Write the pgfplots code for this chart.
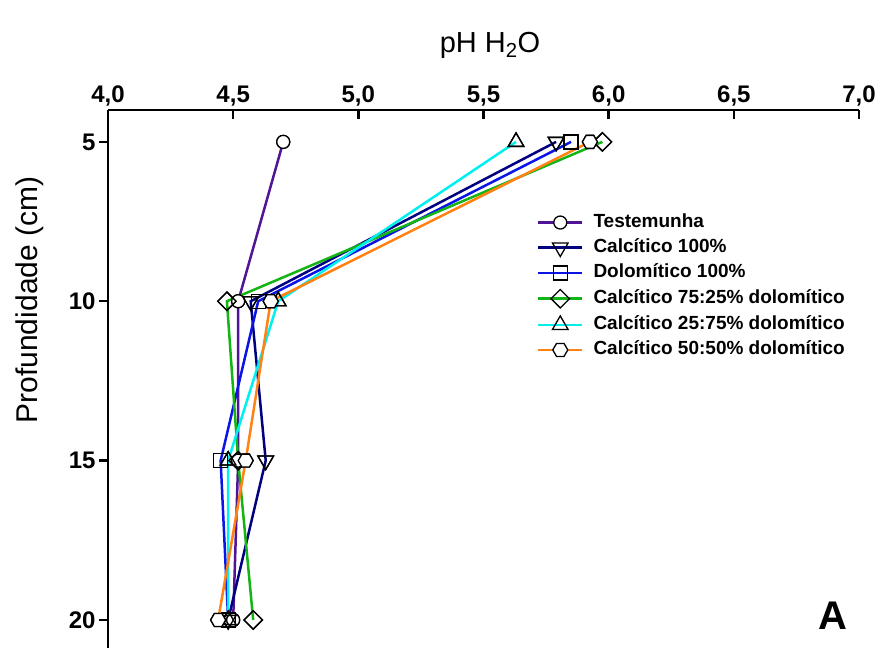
\documentclass[border=0pt]{standalone}
\usepackage{fontspec}
\setmainfont{Liberation Sans}
\usepackage{pgfplots}
\pgfplotsset{compat=1.18}
\usepackage{pgfplotstable}

\definecolor{cTest}{RGB}{80,20,150}
\definecolor{cCal}{RGB}{0,0,128}
\definecolor{cDol}{RGB}{10,20,230}
\definecolor{cG}{RGB}{20,180,20}
\definecolor{cC}{RGB}{0,240,240}
\definecolor{cO}{RGB}{255,130,20}
\tikzset{mk/.style={line width=1.3pt, draw=black, fill=white, solid}}

\pgfdeclareplotmark{hexagon}{%
  \pgfpathmoveto{\pgfpointpolar{0}{\pgfplotmarksize}}%
  \pgfpathlineto{\pgfpointpolar{60}{\pgfplotmarksize}}%
  \pgfpathlineto{\pgfpointpolar{120}{\pgfplotmarksize}}%
  \pgfpathlineto{\pgfpointpolar{180}{\pgfplotmarksize}}%
  \pgfpathlineto{\pgfpointpolar{240}{\pgfplotmarksize}}%
  \pgfpathlineto{\pgfpointpolar{300}{\pgfplotmarksize}}%
  \pgfpathclose
  \pgfusepathqfillstroke}

\pgfplotstableread{
ph depth
4.70 5
4.52 10
4.52 15
4.50 20
}\testemunha
\pgfplotstableread{
ph depth
5.79 5
4.57 10
4.63 15
4.48 20
}\calcitico
\pgfplotstableread{
ph depth
5.85 5
4.60 10
4.45 15
4.48 20
}\dolomitico
\pgfplotstableread{
ph depth
5.975 5
4.475 10
4.52 15
4.58 20
}\cseventyfive
\pgfplotstableread{
ph depth
5.63 5
4.68 10
4.48 15
4.48 20
}\ctwentyfive
\pgfplotstableread{
ph depth
5.925 5
4.65 10
4.55 15
4.44 20
}\cfifty

\begin{document}
\begin{tikzpicture}
\begin{axis}[name=ax,
  scale only axis, width=751pt, height=538pt,
  xmin=4, xmax=7, ymin=4, ymax=20.88, y dir=reverse,
  axis x line=top, axis y line=left,
  axis line style={line width=2.5pt,-},
  xtick={4,4.5,5,5.5,6,6.5,7},
  xticklabels={{4,0},{4,5},{5,0},{5,5},{6,0},{6,5},{7,0}},
  ytick={5,10,15,20},
  yticklabels={5,10,15,20},
  xtick align=inside, ytick align=outside,
  major tick length=9pt,
  tick style={line width=2.5pt, black},
  tick label style={font=\fontsize{24}{24}\selectfont\bfseries},
  clip=false,
  legend style={at={(axis description cs:0.571,0.807)}, anchor=north west,
    draw=none, fill=none, font=\fontsize{19}{19}\selectfont\bfseries,
    row sep=8pt, inner sep=0pt,
    nodes={inner sep=0pt, text height=13pt, text depth=4pt},
    /tikz/every odd column/.append style={column sep=10pt}},
  legend cell align=left,
  legend image code/.code={\draw[mark repeat=2,mark phase=2, line width=2.5pt] plot coordinates {(0pt,0pt) (22pt,0pt) (44pt,0pt)};},
  every axis plot/.append style={line width=2.5pt},
]
\addplot[cTest, mark=*, mark size=6.5pt, mark options={mk}] table[x=ph,y=depth]{\testemunha};
\addplot[cCal, mark=triangle, mark size=9pt, mark options={mk, rotate=180}] table[x=ph,y=depth]{\calcitico};
\addplot[cDol, mark=square, mark size=7pt, mark options={mk}] table[x=ph,y=depth]{\dolomitico};
\addplot[cG, mark=square, mark size=6.5pt, mark options={mk, rotate=45}] table[x=ph,y=depth]{\cseventyfive};
\addplot[cC, mark=triangle, mark size=9pt, mark options={mk}] table[x=ph,y=depth]{\ctwentyfive};
\addplot[cO, mark=hexagon, mark size=7.5pt, mark options={mk}] table[x=ph,y=depth]{\cfifty};
\legend{Testemunha, Calcítico 100\%, Dolomítico 100\%, Calcítico 75:25\% dolomítico, Calcítico 25:75\% dolomítico, Calcítico 50:50\% dolomítico}
% marks on top
\addplot[only marks, forget plot, mark=*, mark size=6.5pt, mark options={mk}] table[x=ph,y=depth]{\testemunha};
\addplot[only marks, forget plot, mark=triangle, mark size=9pt, mark options={mk, rotate=180}] table[x=ph,y=depth]{\calcitico};
\addplot[only marks, forget plot, mark=square, mark size=7pt, mark options={mk}] table[x=ph,y=depth]{\dolomitico};
\addplot[only marks, forget plot, mark=square, mark size=6.5pt, mark options={mk, rotate=45}] table[x=ph,y=depth]{\cseventyfive};
\addplot[only marks, forget plot, mark=triangle, mark size=9pt, mark options={mk}] table[x=ph,y=depth]{\ctwentyfive};
\addplot[only marks, forget plot, mark=hexagon, mark size=7.5pt, mark options={mk}] table[x=ph,y=depth]{\cfifty};
\end{axis}
\node[font=\fontsize{29}{29}\selectfont] at ([shift={(382pt,65pt)}]ax.north west) {pH H\textsubscript{2}O};
\node[font=\fontsize{30}{30}\selectfont, rotate=90] at ([shift={(-78pt,-190pt)}]ax.north west) {Profundidade (cm)};
\node[font=\fontsize{40}{40}\selectfont\bfseries] at ([shift={(725pt,-506pt)}]ax.north west) {A};
\pgfresetboundingbox
\path ([shift={(-108pt,110pt)}]ax.north west) rectangle ([shift={(21pt,0pt)}]ax.south east);
\end{tikzpicture}
\end{document}
